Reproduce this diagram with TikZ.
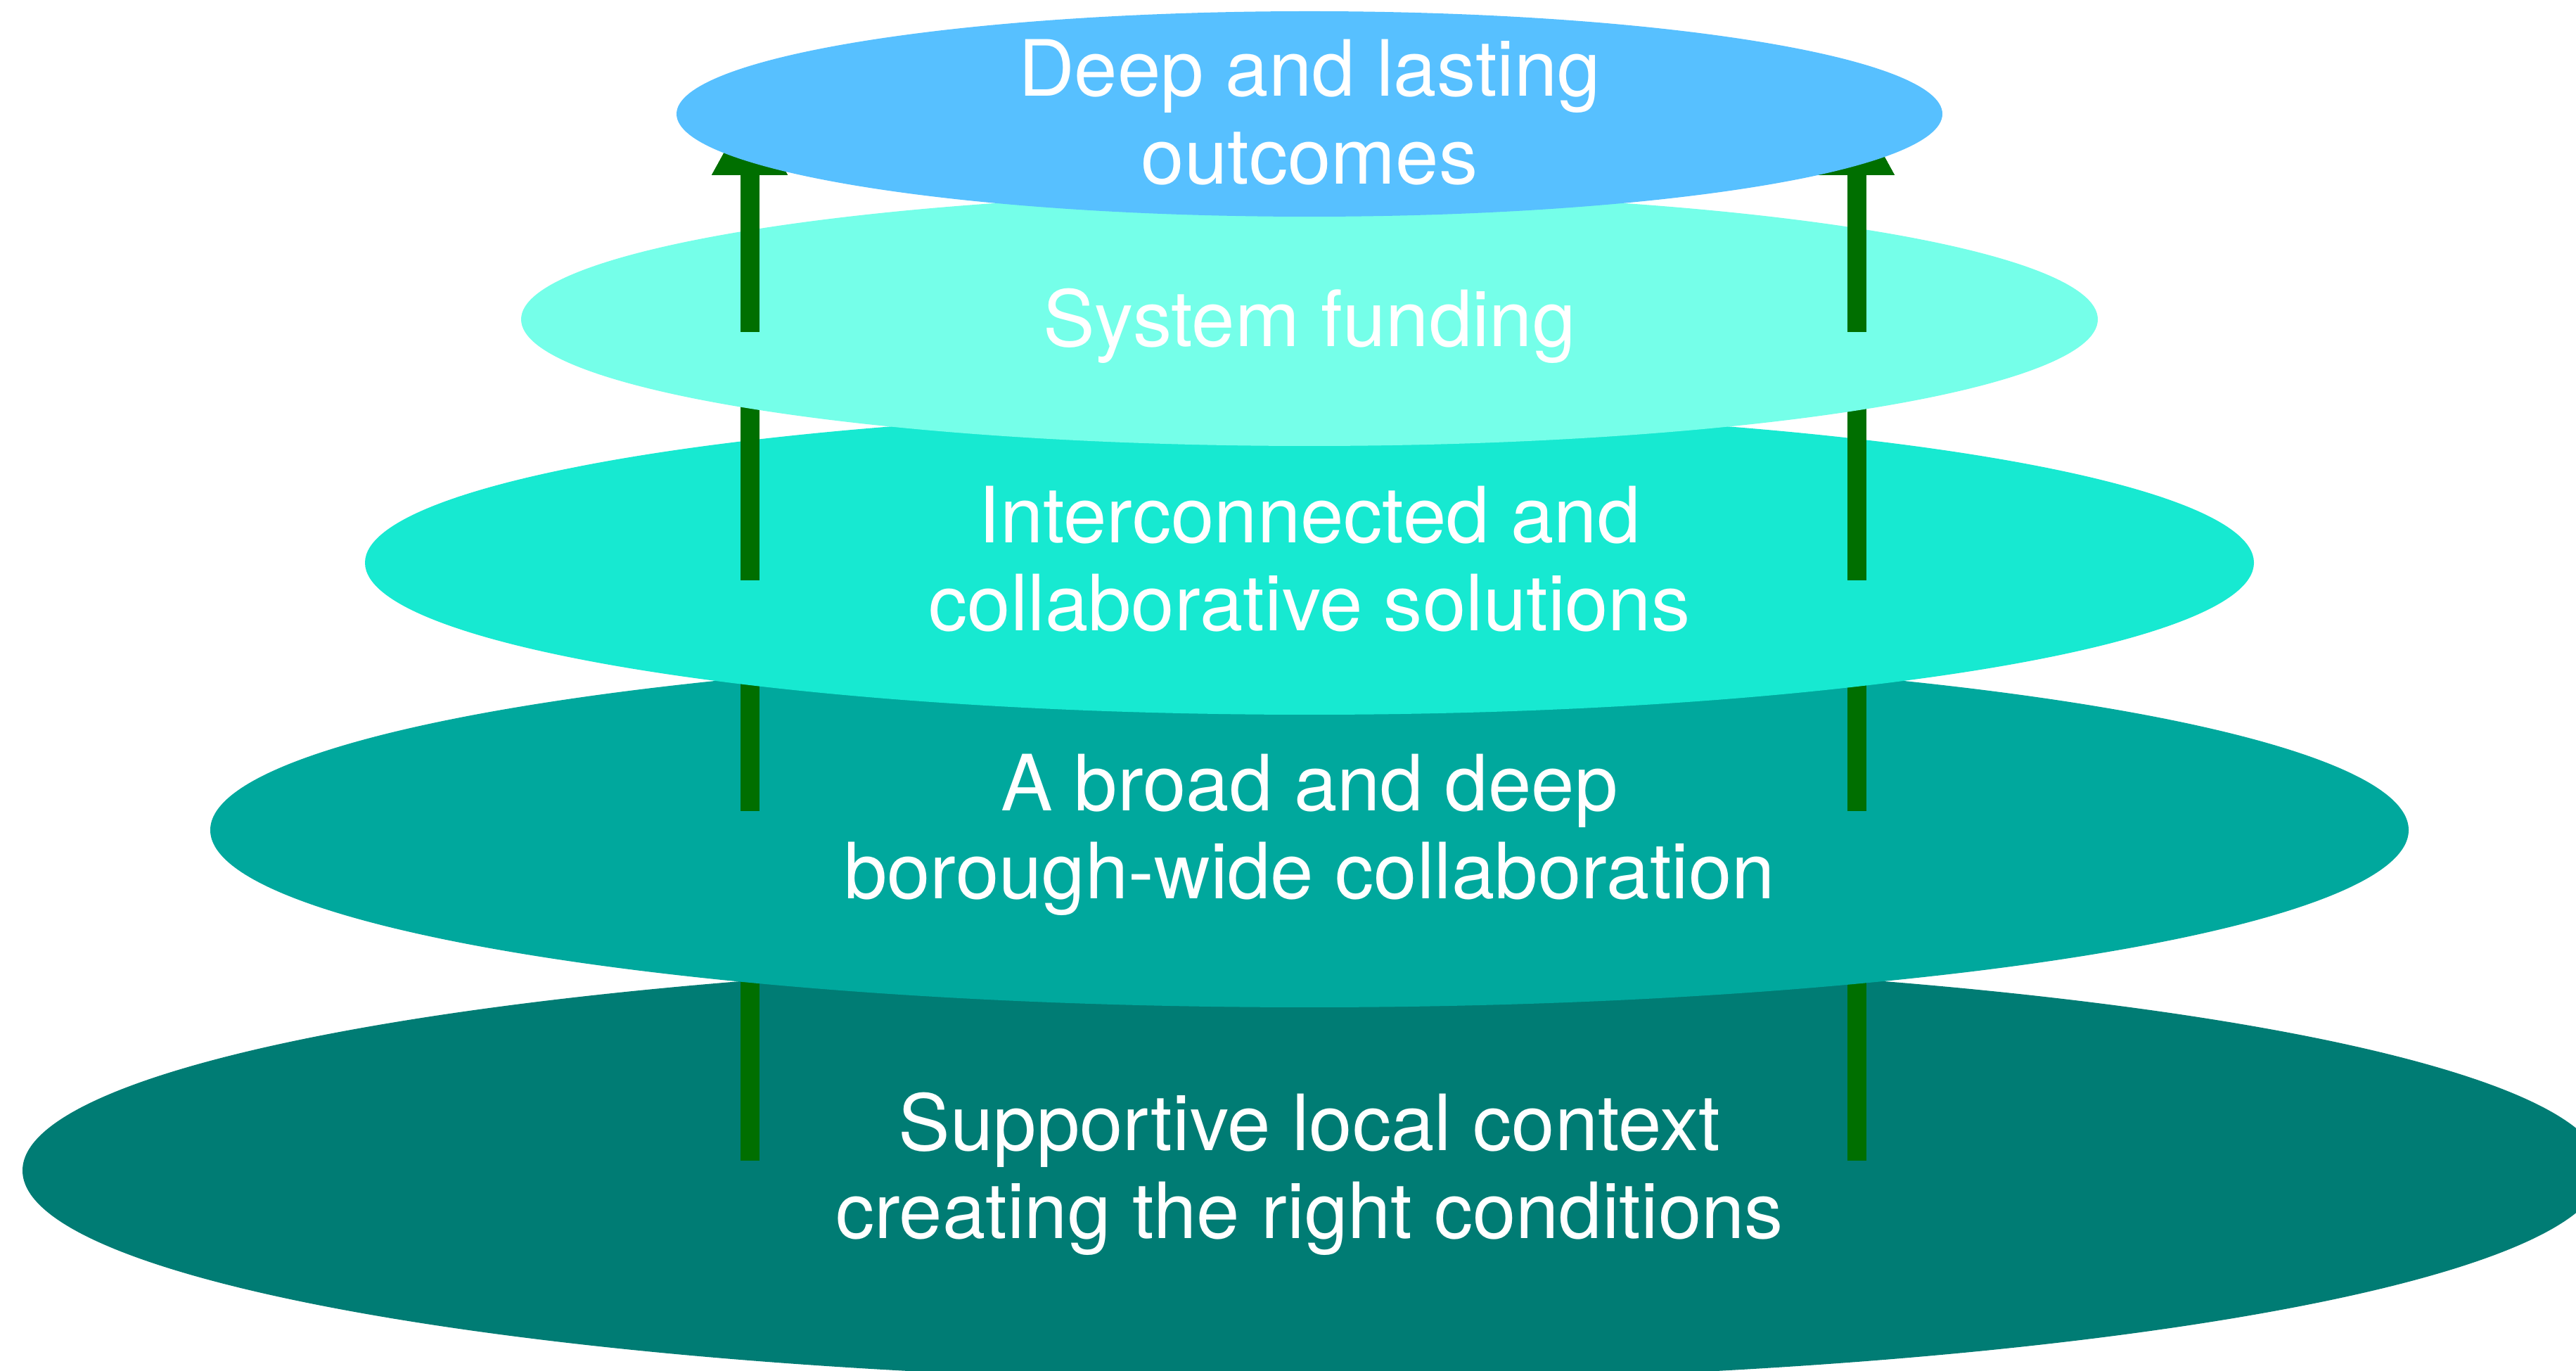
\documentclass[tikz,border=0pt]{standalone}
\usepackage{fontspec}
\setmainfont{TeX Gyre Heros}
\usetikzlibrary{arrows.meta}

\definecolor{layerone}{HTML}{007C74}
\definecolor{layertwo}{HTML}{00A89D}
\definecolor{layerthree}{HTML}{17E9D1}
\definecolor{layerfour}{HTML}{75FFE9}
\definecolor{layerfive}{HTML}{57C0FF}
\definecolor{arrowgreen}{HTML}{006F00}

\tikzset{
    layertext/.style={text=white, align=center, inner sep=0pt,
        font=\fontsize{31.4}{35.6}\selectfont},
    uparrow/.style={-{Triangle[width=1cm,length=1cm]}, draw=arrowgreen,
        fill=arrowgreen, line width=0.27cm},
}

\begin{document}
\begin{tikzpicture}
    \clip (0,0) rectangle (36.63,19.48);

    % both arrows end under the top layer
    \coordinate (tipL) at (10.66,17.99);
    \coordinate (tipR) at (26.40,17.99);

    % bottom layer
    \fill[layerone] (18.66,2.84) ellipse (18.34 and 3.00);
    \node[layertext] (context) at (18.62,2.79) {
        Supportive local context\\creating the right conditions
    };
    \coordinate (footL1) at (10.66,2.98);
    \coordinate (footR1) at (26.40,2.98);
    \draw[uparrow] (footL1) -- (tipL);
    \draw[uparrow] (footR1) -- (tipR);

    \fill[layertwo] (18.62,7.68) ellipse (15.63 and 2.52);
    \node[layertext] (collab) at (18.62,7.61) {
        A broad and deep\\borough-wide collaboration
    };
    \coordinate (footL2) at (10.66,7.95);
    \coordinate (footR2) at (26.40,7.95);
    \draw[uparrow] (footL2) -- (tipL);
    \draw[uparrow] (footR2) -- (tipR);

    \fill[layerthree] (18.62,11.48) ellipse (13.43 and 2.16);
    \node[layertext] (solutions) at (18.62,11.53) {
        Interconnected and\\collaborative solutions
    };
    \coordinate (footL3) at (10.66,11.23);
    \coordinate (footR3) at (26.40,11.23);
    \draw[uparrow] (footL3) -- (tipL);
    \draw[uparrow] (footR3) -- (tipR);

    \fill[layerfour] (18.62,14.94) ellipse (11.21 and 1.80);
    \node[layertext] (funding) at (18.62,14.85) {System funding};
    \coordinate (footL4) at (10.66,14.76);
    \coordinate (footR4) at (26.40,14.76);
    \draw[uparrow] (footL4) -- (tipL);
    \draw[uparrow] (footR4) -- (tipR);

    % top layer
    \fill[layerfive] (18.62,17.86) ellipse (9.00 and 1.46);
    \node[layertext] (outcomes) at (18.62,17.88) {
        Deep and lasting\\outcomes
    };
\end{tikzpicture}
\end{document}
